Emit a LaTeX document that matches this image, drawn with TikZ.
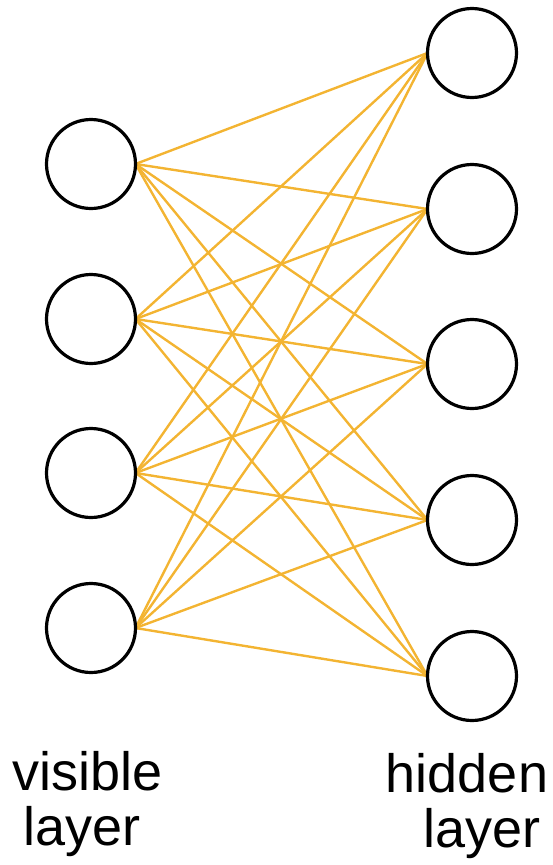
\documentclass[tikz,border=0pt]{standalone}
\usepackage{fontspec}
\setmainfont{Liberation Sans}
\usetikzlibrary{backgrounds}
\definecolor{edgeorange}{RGB}{243,180,50}
\tikzset{
  unit/.style={circle, draw=black, line width=3.2pt, minimum size=89pt, inner sep=0pt, outer sep=0pt},
  conn/.style={draw=edgeorange, line width=2.4pt},
  lbl/.style={anchor=base, inner sep=0pt, font=\fontsize{54}{56}\selectfont}
}
\begin{document}
\begin{tikzpicture}[x=1pt,y=-1pt]
\useasboundingbox (0,0) rectangle (552,865);
\node[unit] (v1) at (91,164) {};
\node[unit] (v2) at (91,319) {};
\node[unit] (v3) at (91,473) {};
\node[unit] (v4) at (91,628) {};
\node[unit] (h1) at (472,53) {};
\node[unit] (h2) at (472,209) {};
\node[unit] (h3) at (472,364) {};
\node[unit] (h4) at (472,520) {};
\node[unit] (h5) at (472,676) {};
\begin{scope}[on background layer]
\foreach \v in {1,...,4}{
  \foreach \h in {1,...,5}{
    \draw[conn] (v\v.east) -- (h\h.west);
  }
}
\end{scope}
\node[lbl] (t1) at (88,790) {visible};
\node[lbl] (t2) at (82,845) {layer};
\node[lbl] (t3) at (467,792) {hidden};
\node[lbl] (t4) at (482,847) {layer};
\end{tikzpicture}
\end{document}
